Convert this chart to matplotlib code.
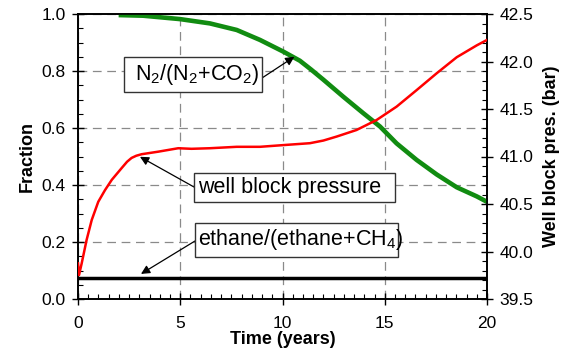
import matplotlib
matplotlib.use("Agg")
import matplotlib.pyplot as plt
from matplotlib.patches import Rectangle
from matplotlib.ticker import MultipleLocator, FormatStrFormatter

plt.rcParams['font.family'] = ['Liberation Sans', 'DejaVu Sans']
plt.rcParams['mathtext.fontset'] = 'custom'
plt.rcParams['mathtext.rm'] = 'Liberation Sans'
plt.rcParams['mathtext.it'] = 'Liberation Sans:italic'
plt.rcParams['mathtext.bf'] = 'Liberation Sans:bold'

# N2/(N2+CO2) fraction (left axis)
t_n2 = [2.1, 3.19, 5.0, 6.45, 7.76, 8.9, 10.04, 10.85, 11.4, 11.99, 12.97, 13.95, 14.77,
        15.58, 16.56, 17.54, 18.52, 19.5, 20.0]
f_n2 = [0.996, 0.994, 0.982, 0.967, 0.944, 0.909, 0.868, 0.836, 0.805, 0.770, 0.710, 0.652, 0.605,
        0.546, 0.488, 0.437, 0.392, 0.360, 0.341]

# well block pressure (right axis, bar)
t_p = [0.0, 0.05, 0.18, 0.42, 0.67, 0.99, 1.32, 1.65, 2.13, 2.4, 2.62, 2.85, 3.11, 3.93, 4.9,
       5.55, 6.45, 7.76, 8.9, 10.04, 11.34, 12.0, 12.65, 13.62, 14.6, 15.58, 16.56, 17.54,
       18.52, 19.5, 20.0]
p_wb = [39.875, 39.752, 39.875, 40.121, 40.331, 40.523, 40.646, 40.754, 40.877, 40.945, 40.985,
        41.008, 41.024, 41.051, 41.087, 41.081, 41.087, 41.102, 41.102, 41.120, 41.140, 41.168,
        41.210, 41.279, 41.384, 41.525, 41.699, 41.876, 42.045, 42.170, 42.227]

# ethane/(ethane+CH4) fraction (left axis)
t_eth = [0.0, 20.0]
f_eth = [0.073, 0.073]

W, H = 568, 356


def fx(px):
    return px / W


def fy(py):
    return 1 - py / H


fig = plt.figure(figsize=(W / 100, H / 100), dpi=100)
ax = fig.add_axes([fx(78), fy(299), (487 - 78) / W, (299 - 14) / H])
ax2 = ax.twinx()

ax.set_xlim(0, 20)
ax.set_ylim(0, 1.0)
ax2.set_ylim(39.5, 42.5)

ax.grid(True, which='major', color='#8a8a8a', linestyle=(0, (7, 4.5)), linewidth=0.9)
ax.set_axisbelow(True)

ax.plot(t_eth, f_eth, color='black', linewidth=2.5, zorder=3)
ax.plot(t_n2, f_n2, color='#118c11', linewidth=3.3, zorder=3, solid_joinstyle='round')
ax2.plot(t_p, p_wb, color='#ff0000', linewidth=1.8, zorder=3, solid_joinstyle='round')

ax.xaxis.set_major_locator(MultipleLocator(5))
ax.xaxis.set_minor_locator(MultipleLocator(0.5))
ax.yaxis.set_major_locator(MultipleLocator(0.2))
ax.yaxis.set_minor_locator(MultipleLocator(0.05))
ax.yaxis.set_major_formatter(FormatStrFormatter('%.1f'))
ax2.yaxis.set_major_locator(MultipleLocator(0.5))
ax2.yaxis.set_minor_locator(MultipleLocator(0.1))
ax2.yaxis.set_major_formatter(FormatStrFormatter('%.1f'))

for a in (ax, ax2):
    a.tick_params(which='major', direction='inout', length=8, width=1.0, labelsize=12.5,
                  colors='black', pad=5)
    a.tick_params(which='minor', direction='in', length=3.6, width=0.8)
    for s in a.spines.values():
        s.set_linewidth(1.2)
ax.tick_params(axis='x', which='major', pad=8)

ax.set_xlabel('Time (years)', fontsize=13, fontweight='bold', labelpad=0)
ax.set_ylabel('Fraction', fontsize=13, fontweight='bold', labelpad=4)
ax2.set_ylabel('Well block pres. (bar)', fontsize=13, fontweight='bold', labelpad=7)

# labelled boxes with arrows pointing to each curve
boxes = [
    ((124, 57, 262, 92), 135, r'N$_2$/(N$_2$+CO$_2$)'),
    ((194, 173, 395, 202), 198, 'well block pressure'),
    ((195, 223, 398, 257), 198, r'ethane/(ethane+CH$_4$)'),
]
for (x0, y0, x1, y1), tx, label in boxes:
    fig.patches.append(Rectangle((fx(x0), fy(y1)), fx(x1) - fx(x0), fy(y0) - fy(y1),
                                 transform=fig.transFigure, facecolor='white',
                                 edgecolor='#333333', linewidth=1.0, zorder=5))
    fig.text(fx(tx), fy((y0 + y1) / 2), label, fontsize=15.5, ha='left', va='center',
             zorder=6)

arrow = dict(arrowstyle='-|>', color='black', linewidth=0.9, mutation_scale=13,
             shrinkA=0, shrinkB=0)
ax.annotate('', xy=(10.58, 0.850), xytext=(fx(262), fy(78)), textcoords='figure fraction',
            arrowprops=arrow, zorder=7)
ax.annotate('', xy=(3.03, 0.499), xytext=(fx(194), fy(187)), textcoords='figure fraction',
            arrowprops=arrow, zorder=7)
ax.annotate('', xy=(3.08, 0.088), xytext=(fx(195), fy(241)), textcoords='figure fraction',
            arrowprops=arrow, zorder=7)

fig.savefig('out.png', dpi=100)
